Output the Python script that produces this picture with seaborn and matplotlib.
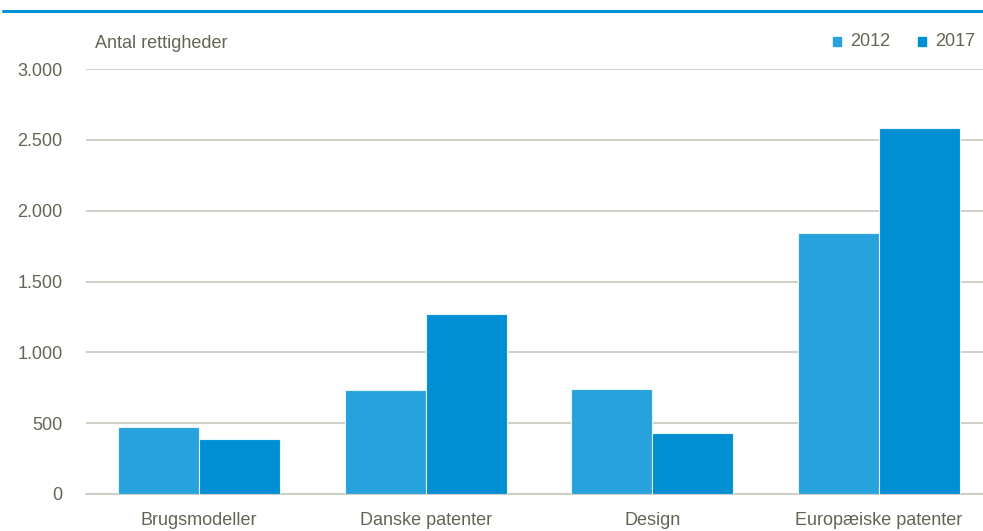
import matplotlib
matplotlib.use("Agg")
import matplotlib.pyplot as plt
from matplotlib.lines import Line2D
from matplotlib.patches import Rectangle
import pandas as pd
import seaborn as sns

# Number of rights by type, 2012 vs 2017
categories = ["Brugsmodeller", "Danske patenter", "Design", "Europæiske patenter"]
years = ["2012", "2017"]
values_2012 = [474, 731, 738, 1844]
values_2017 = [389, 1268, 434, 2582]
ytick_values = [0, 500, 1000, 1500, 2000, 2500, 3000]
ytick_labels = ["0", "500", "1.000", "1.500", "2.000", "2.500", "3.000"]

df = pd.DataFrame({
    "Kategori": categories * 2,
    "År": [years[0]] * len(categories) + [years[1]] * len(categories),
    "Antal": values_2012 + values_2017,
})

sns.set_theme(style="white")
plt.rcParams["font.family"] = ["Liberation Sans", "DejaVu Sans"]

text_color = "#646455"
grid_color = "#cbcbc2"
colors = {"2012": "#27a2dc", "2017": "#008fd3"}
fs = 13

fig = plt.figure(figsize=(9.83, 5.31), dpi=100)
ax = fig.add_axes([86 / 983, 37 / 531, 906 / 983, 425 / 531])

sns.barplot(data=df, x="Kategori", y="Antal", hue="År", palette=colors,
            width=0.715, dodge=True, saturation=1, edgecolor="#e6f4fb",
            linewidth=0.8, legend=False, ax=ax, zorder=3)

ax.set_xlim(-0.5, 3.5)
ax.set_ylim(0, 3000)
ax.set_yticks(ytick_values)
ax.set_yticklabels(ytick_labels)
ax.yaxis.grid(True, color=grid_color, linewidth=1.3, zorder=0)
ax.set_axisbelow(True)
for side in ["top", "right", "left"]:
    ax.spines[side].set_visible(False)
ax.spines["bottom"].set_color(grid_color)
ax.spines["bottom"].set_linewidth(1.3)
ax.tick_params(axis="both", length=0, labelsize=fs, colors=text_color)
ax.tick_params(axis="x", pad=13)
ax.tick_params(axis="y", pad=17)
ax.set_xlabel("")
ax.set_ylabel("")

# Unit label above the value axis
fig.text(95 / 983, 1 - 44 / 531, "Antal rettigheder", fontsize=fs,
         color=text_color, va="center", ha="left")

# Legend at the top right
for x_sq, year in [(833, "2012"), (918, "2017")]:
    fig.patches.append(Rectangle((x_sq / 983, 1 - 46 / 531), 8 / 983, 9 / 531,
                                 transform=fig.transFigure, color=colors[year]))
    fig.text((x_sq + 17) / 983, 1 - 41 / 531, year, fontsize=fs,
             color=text_color, va="center", ha="left")

# Header rule
fig.add_artist(Line2D([3 / 983, 1.0], [1 - 11 / 531, 1 - 11 / 531],
                      transform=fig.transFigure, color="#0090d5", linewidth=2.2))

fig.savefig("out.png", dpi=100)
